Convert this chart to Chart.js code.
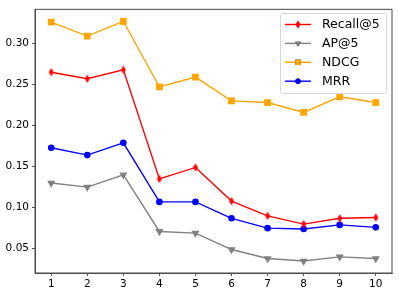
<!DOCTYPE html>
<html>
<head>
<meta charset="utf-8">
<script src="https://cdn.jsdelivr.net/npm/chart.js@4/dist/chart.umd.min.js"></script>
<style>
  html, body { margin: 0; padding: 0; background: #fff; }
  #wrap { width: 399px; height: 296px; }
</style>
</head>
<body>
<div id="wrap"><canvas id="metricsChart" width="399" height="296"></canvas></div>
<script>
const steps = [1, 2, 3, 4, 5, 6, 7, 8, 9, 10];
const recallAt5 = [0.265, 0.257, 0.268, 0.135, 0.149, 0.108, 0.090, 0.080, 0.087, 0.088];
const apAt5 = [0.130, 0.125, 0.140, 0.071, 0.069, 0.049, 0.038, 0.035, 0.040, 0.038];
const ndcg = [0.326, 0.309, 0.327, 0.247, 0.259, 0.230, 0.228, 0.216, 0.235, 0.228];
const mrr = [0.173, 0.164, 0.179, 0.107, 0.107, 0.087, 0.075, 0.074, 0.079, 0.076];
const yTicks = [0.05, 0.10, 0.15, 0.20, 0.25, 0.30];
const xTicks = steps;

// thin diamond marker like matplotlib 'd'
function thinDiamond(color) {
  const c = document.createElement('canvas');
  c.width = 6; c.height = 9;
  const g = c.getContext('2d');
  g.fillStyle = color;
  g.beginPath();
  g.moveTo(3, 0.2); g.lineTo(5.5, 4.5); g.lineTo(3, 8.8); g.lineTo(0.5, 4.5);
  g.closePath();
  g.fill();
  return c;
}

const toPoints = vals => steps.map((s, i) => ({ x: s, y: vals[i] }));

const boxPlugin = {
  id: 'box',
  afterDraw(chart) {
    const { ctx, chartArea: a } = chart;
    ctx.save();
    ctx.strokeStyle = '#333';
    ctx.lineWidth = 0.9;
    ctx.strokeRect(a.left, a.top, a.right - a.left, a.bottom - a.top);
    ctx.restore();
  }
};

const legendPlugin = {
  id: 'innerLegend',
  afterDraw(chart) {
    const ctx = chart.ctx;
    const x0 = 280, y0 = 13, w = 106, h = 80;
    ctx.save();
    ctx.fillStyle = 'rgba(255,255,255,0.8)';
    ctx.strokeStyle = '#d6d6d6';
    ctx.lineWidth = 1;
    ctx.beginPath();
    ctx.roundRect(x0 + 0.5, y0 + 0.5, w, h, 2);
    ctx.fill();
    ctx.stroke();
    ctx.font = '12.5px "DejaVu Sans"';
    ctx.textBaseline = 'middle';
    ctx.fillStyle = '#000';
    chart.data.datasets.forEach((ds, i) => {
      const y = y0 + 11.5 + i * 18.9;
      ctx.strokeStyle = ds.borderColor;
      ctx.lineWidth = ds.borderWidth;
      ctx.beginPath();
      ctx.moveTo(285, y); ctx.lineTo(311, y);
      ctx.stroke();
      Chart.helpers.drawPoint(ctx, {
        pointStyle: ds.pointStyle, radius: ds.pointRadius, rotation: ds.pointRotation || 0,
        borderWidth: 0
      }, 298, y);
      ctx.fillStyle = ds.pointBackgroundColor;
      ctx.fill();
      ctx.fillStyle = '#000';
      ctx.fillText(ds.label, 322, y + 0.5);
    });
    ctx.restore();
  }
};

new Chart(document.getElementById('metricsChart'), {
  type: 'line',
  data: {
    datasets: [
      { label: 'Recall@5', data: toPoints(recallAt5), borderColor: '#ff0000', pointBackgroundColor: '#ff0000',
        pointBorderColor: '#ff0000', pointStyle: thinDiamond('#ff0000'), pointRadius: 3, borderWidth: 1.4 },
      { label: 'AP@5', data: toPoints(apAt5), borderColor: '#808080', pointBackgroundColor: '#808080',
        pointBorderColor: '#808080', pointStyle: 'triangle', pointRotation: 180, pointRadius: 3.3, borderWidth: 1.4 },
      { label: 'NDCG', data: toPoints(ndcg), borderColor: '#ffa500', pointBackgroundColor: '#ffa500',
        pointBorderColor: '#ffa500', pointStyle: 'rect', pointRadius: 3.8, borderWidth: 1.4 },
      { label: 'MRR', data: toPoints(mrr), borderColor: '#0000ff', pointBackgroundColor: '#0000ff',
        pointBorderColor: '#0000ff', pointStyle: 'circle', pointRadius: 2.6, borderWidth: 1.4 }
    ]
  },
  options: {
    responsive: false,
    animation: false,
    layout: { padding: { top: 7, right: 7, left: 0, bottom: 0 } },
    elements: { line: { tension: 0 }, point: { borderWidth: 0, hoverRadius: 3 } },
    plugins: { legend: { display: false }, tooltip: { enabled: false } },
    scales: {
      x: {
        type: 'linear', min: 0.55, max: 10.45,
        afterBuildTicks: s => { s.ticks = xTicks.map(v => ({ value: v })); },
        afterFit: s => { s.height = 23; },
        ticks: { color: '#000', font: { family: 'DejaVu Sans', size: 10.5 }, padding: 2, maxRotation: 0,
          callback: v => String(v) },
        grid: { drawOnChartArea: false, drawTicks: true, tickLength: 3, tickColor: '#444', tickWidth: 0.9 },
        border: { display: true, color: '#555', width: 0.9 }
      },
      y: {
        min: 0.0204, max: 0.3416,
        afterBuildTicks: s => { s.ticks = yTicks.map(v => ({ value: v })); },
        afterFit: s => { s.width = 35; },
        ticks: { color: '#000', font: { family: 'DejaVu Sans', size: 10.5 }, padding: 3,
          callback: v => v.toFixed(2) },
        grid: { drawOnChartArea: false, drawTicks: true, tickLength: 3, tickColor: '#444', tickWidth: 0.9 },
        border: { display: true, color: '#555', width: 0.9 }
      }
    }
  },
  plugins: [boxPlugin, legendPlugin]
});
</script>
</body>
</html>
